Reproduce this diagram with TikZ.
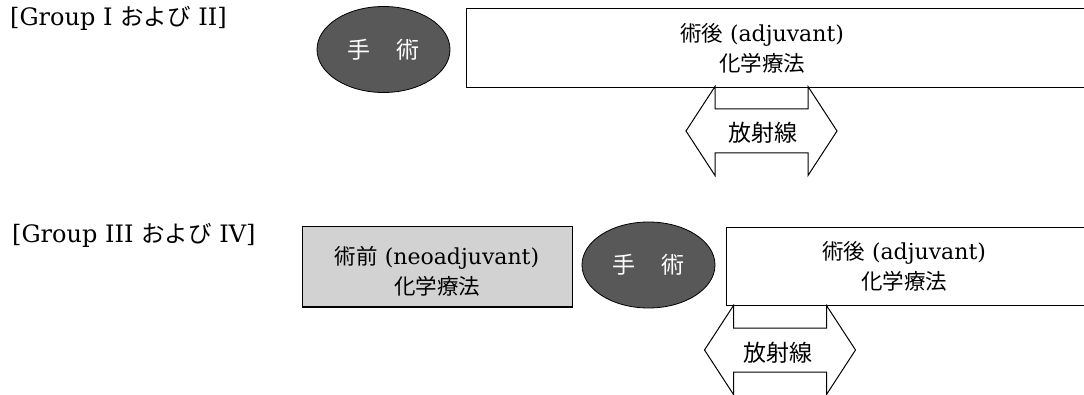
\documentclass[tikz,border=0pt]{standalone}
\usepackage{fontspec}
\setmainfont{DejaVu Serif}
\newfontfamily\jp{Noto Sans CJK JP}
\usetikzlibrary{shapes.geometric}
\definecolor{opgray}{HTML}{585858}
\definecolor{pregray}{HTML}{D2D2D2}
\newcommand\jpc[1]{{\jp\fontsize{21.5}{30}\selectfont #1}}
\newcommand\jpl[1]{{\jp\fontsize{23.5}{28}\selectfont #1}}
\tikzset{
  lbl/.style={anchor=west, inner sep=0pt, font=\fontsize{24}{28}\selectfont},
  txt/.style={align=center, inner sep=0pt, font=\fontsize{22}{30}\selectfont},
  radtxt/.style={inner sep=0pt, font=\jp\fontsize{23}{26}\selectfont},
  boxshape/.style={draw, line width=1pt, rectangle, inner sep=0pt},
  opnode/.style={ellipse, draw, line width=0.8pt, fill=opgray, text=white,
     minimum width=133pt, minimum height=86pt, inner sep=0pt,
     font=\jp\fontsize{23}{26}\selectfont},
  radarr/.pic={
    \draw[line width=1pt, line join=miter]
      (-75.5,0) -- (-46.5,-44.5) -- (-46.5,-22) -- (46.5,-22) -- (46.5,-44.5)
      -- (75.5,0) -- (46.5,44.5) -- (46.5,22) -- (-46.5,22) -- (-46.5,44.5) -- cycle;
  }
}
\begin{document}
\begin{tikzpicture}[x=1pt,y=-1pt]
\useasboundingbox (0,0) rectangle (1084,395);
\clip (0,0) rectangle (1084,395);

% Group I and II
\node[lbl] (g1) at (10,18) {[Group I \jpl{および} II]};
\node[opnode] (op1) at (383.5,49.5) {手\hspace{1.1em}術};
\node[boxshape, anchor=north west, minimum width=650pt, minimum height=79pt] (post1) at (466,8) {};
\node[txt] (post1t) at (762,48) {\jpc{術後} (adjuvant)\\\jpc{化学療法}};
\pic at (761.5,131) {radarr};
\node[radtxt] (rad1) at (763,132.5) {放射線};

% Group III and IV
\node[lbl] (g2) at (12,235) {[Group III \jpl{および} IV]};
\node[boxshape, fill=pregray, minimum width=270pt, minimum height=80pt] (pre) at (437,267) {};
\node[txt] (pret) at (437,271) {\jpc{術前} (neoadjuvant)\\\jpc{化学療法}};
\node[opnode] (op2) at (648.5,265) {手\hspace{1.1em}術};
\node[boxshape, anchor=north west, minimum width=400pt, minimum height=78pt] (post2) at (726,227) {};
\node[txt] (post2t) at (904,266) {\jpc{術後} (adjuvant)\\\jpc{化学療法}};
\pic at (780,350) {radarr};
\node[radtxt] (rad2) at (778,353) {放射線};
\end{tikzpicture}
\end{document}
